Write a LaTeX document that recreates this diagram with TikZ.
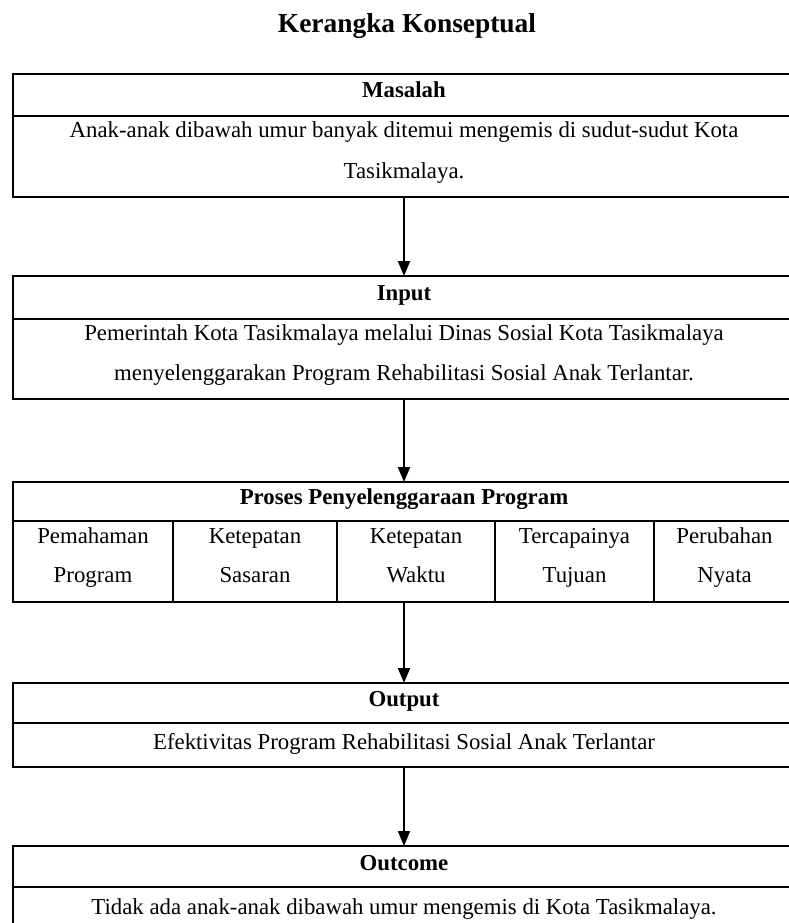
\documentclass[tikz,border=0pt]{standalone}
\usepackage{fontspec}
\setmainfont{Liberation Serif}
\usetikzlibrary{arrows.meta}
\newcommand{\twoline}[4]{\rule{0pt}{#1}#3\\#4\rule[-#2]{0pt}{#2}}
\begin{document}
\begin{tikzpicture}[x=1pt,y=-1pt,
  txt/.style={font=\fontsize{22.8}{40}\selectfont},
  box/.style={draw, line width=2.1pt, minimum width=782pt, inner sep=0pt, outer sep=0pt, align=center, txt},
  hdr/.style={box, font=\fontsize{22.8}{40}\selectfont\bfseries},
  cell/.style={draw, line width=2.1pt, inner sep=0pt, outer sep=0pt, align=center, anchor=north west, font=\fontsize{22.8}{39}\selectfont},
  arr/.style={line width=2pt, -{Triangle[width=12pt,length=15pt]}}]
\useasboundingbox (0,0) rectangle (789,923);
\clip (0,0) rectangle (789,923);
\node[font=\fontsize{27.4}{30}\selectfont\bfseries, anchor=base] (title) at (407,33) {Kerangka Konseptual};
% Masalah
\node[hdr, text height=24pt, text depth=18pt, anchor=north west] (mh) at (13,74) {Masalah};
\node[box, anchor=north] (mb) at (mh.south) {\twoline{22pt}{19pt}{Anak-anak dibawah umur banyak ditemui mengemis di sudut-sudut Kota}{Tasikmalaya.}};
% Input
\node[hdr, text height=24pt, text depth=19pt, anchor=north west] (ih) at (13,276) {Input};
\node[box, anchor=north] (ib) at (ih.south) {\twoline{21pt}{19pt}{Pemerintah Kota Tasikmalaya melalui Dinas Sosial Kota Tasikmalaya}{menyelenggarakan Program Rehabilitasi Sosial Anak Terlantar.}};
% Proses
\node[hdr, text height=22pt, text depth=17pt, anchor=north west] (ph) at (13,482) {Proses Penyelenggaraan Program};
\node[cell, minimum width=160pt] (c1) at (ph.south west) {\twoline{22pt}{20pt}{Pemahaman}{Program}};
\node[cell, minimum width=164pt] (c2) at (c1.north east) {\twoline{22pt}{20pt}{Ketepatan}{Sasaran}};
\node[cell, minimum width=158pt] (c3) at (c2.north east) {\twoline{22pt}{20pt}{Ketepatan}{Waktu}};
\node[cell, minimum width=159pt] (c4) at (c3.north east) {\twoline{22pt}{20pt}{Tercapainya}{Tujuan}};
\node[cell, minimum width=141pt] (c5) at (c4.north east) {\twoline{22pt}{20pt}{Perubahan}{Nyata}};
% Output
\node[hdr, text height=23pt, text depth=17pt, anchor=north west] (oh) at (13,683) {Output};
\node[box, text height=26pt, text depth=18pt, anchor=north] (ob) at (oh.south) {Efektivitas Program Rehabilitasi Sosial Anak Terlantar};
% Outcome
\node[hdr, text height=24pt, text depth=17pt, anchor=north west] (uh) at (13,846) {Outcome};
\node[box, text height=27pt, text depth=16pt, anchor=north] (ub) at (uh.south) {Tidak ada anak-anak dibawah umur mengemis di Kota Tasikmalaya.};
% arrows
\draw[arr] (mb) -- (ih);
\draw[arr] (ib) -- (ph);
\draw[arr] (ph.center |- c3.south) -- (oh);
\draw[arr] (ob) -- (uh);
\end{tikzpicture}
\end{document}
